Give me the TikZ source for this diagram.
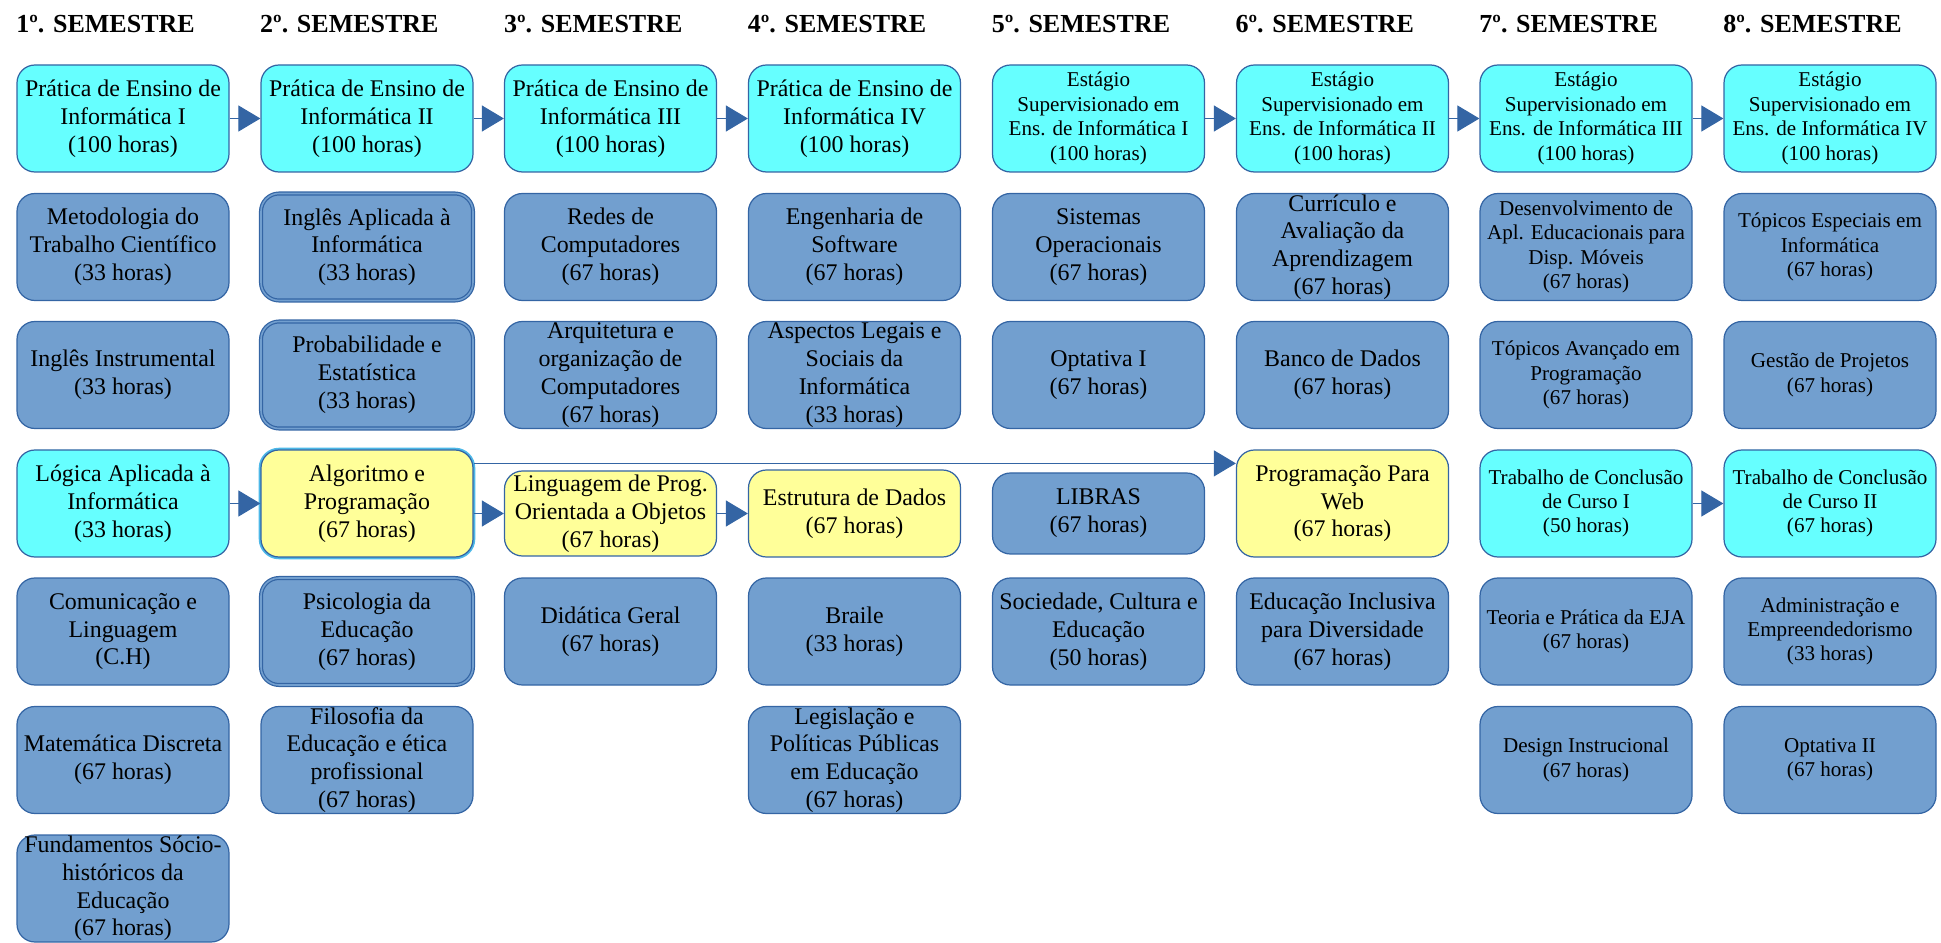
\documentclass[tikz,border=0pt]{standalone}
\usepackage{fontspec}
\setmainfont{Liberation Serif}
\usepackage{tikz}
\usetikzlibrary{positioning,calc,arrows.meta}
\definecolor{BordaAzul}{HTML}{3465A4}
\definecolor{CaixaAzul}{HTML}{729FCF}
\definecolor{CaixaCiano}{HTML}{66FFFF}
\definecolor{CaixaAmarela}{HTML}{FFFF99}
\definecolor{ContornoAlgo}{HTML}{4DB8E8}

\begin{document}
\begin{tikzpicture}[
    % Estilo base das disciplinas
    disciplina/.style={
        draw=BordaAzul, line width=0.7pt, rounded corners=0.36cm,
        minimum width=4.24cm, minimum height=2.14cm,
        inner sep=0pt, align=center,
        font=\fontsize{13.6}{15.8}\selectfont
    },
    % Cores das caixas
    basica/.style={disciplina, fill=CaixaAzul},
    pratica/.style={disciplina, fill=CaixaCiano},
    prog/.style={disciplina, fill=CaixaAmarela},
    % Texto menor (estagios, 7o e 8o semestres)
    menor/.style={font=\fontsize{12}{13.9}\selectfont},
    % Contorno duplo do 2o semestre
    dupla/.style={double=CaixaAzul, double distance=0.9pt},
    % Titulo de cada semestre
    titulo/.style={
        font=\fontsize{14.8}{17}\selectfont\bfseries,
        anchor=base west, inner sep=0pt
    },
    % Setas de pre-requisito
    seta/.style={-{Triangle[length=0.44cm, width=0.52cm]}, draw=BordaAzul, line width=0.6pt}
]
    \useasboundingbox (0,0) rectangle (38.82,-18.86);

    % --- 1. Titulos dos semestres ---
    \foreach \i in {1,...,8} {
        \node[titulo] (T\i) at ({0.32+4.877*(\i-1)}, -0.66) {\i º. SEMESTRE};
    }

    % --- 2. 1o semestre ---
    \node[pratica] (P1) at (2.46, -2.37) {Prática de Ensino de\\Informática I\\(100 horas)};
    \node[basica] (MTC) at (2.46, -4.94) {Metodologia do\\Trabalho Científico\\(33 horas)};
    \node[basica] (II) at (2.46, -7.50) {Inglês Instrumental\\(33 horas)};
    \node[pratica] (LAI) at (2.46, -10.07) {Lógica Aplicada à\\Informática\\(33 horas)};
    \node[basica] (CL) at (2.46, -12.63) {Comunicação e\\Linguagem\\(C.H)};
    \node[basica] (MD) at (2.46, -15.20) {Matemática Discreta\\(67 horas)};
    \node[basica] (FSE) at (2.46, -17.77) {Fundamentos Sócio-\\históricos da\\Educação\\(67 horas)};

    % --- 3. 2o semestre ---
    \node[pratica] (P2) at (7.34, -2.37) {Prática de Ensino de\\Informática II\\(100 horas)};
    \node[basica, dupla] (IAI) at (7.34, -4.94) {Inglês Aplicada à\\Informática\\(33 horas)};
    \node[basica, dupla] (PE) at (7.34, -7.50) {Probabilidade e\\Estatística\\(33 horas)};
    \node[prog, preaction={draw=ContornoAlgo, line width=2.6pt}] (Algo) at (7.34, -10.07) {Algoritmo e\\Programação\\(67 horas)};
    \node[basica, dupla] (PSI) at (7.34, -12.63) {Psicologia da\\Educação\\(67 horas)};
    \node[basica] (FIL) at (7.34, -15.20) {Filosofia da\\Educação e ética\\profissional\\(67 horas)};

    % --- 4. 3o semestre ---
    \node[pratica] (P3) at (12.21, -2.37) {Prática de Ensino de\\Informática III\\(100 horas)};
    \node[basica] (RC) at (12.21, -4.94) {Redes de\\Computadores\\(67 horas)};
    \node[basica] (AOC) at (12.21, -7.50) {Arquitetura e\\organização de\\Computadores\\(67 horas)};
    \node[prog, minimum height=1.70cm] (Ling) at (12.21, -10.27) {Linguagem de Prog.\\Orientada a Objetos\\(67 horas)};
    \node[basica] (DG) at (12.21, -12.63) {Didática Geral\\(67 horas)};

    % --- 5. 4o semestre ---
    \node[pratica] (P4) at (17.09, -2.37) {Prática de Ensino de\\Informática IV\\(100 horas)};
    \node[basica] (ES) at (17.09, -4.94) {Engenharia de\\Software\\(67 horas)};
    \node[basica] (ALS) at (17.09, -7.50) {Aspectos Legais e\\Sociais da\\Informática\\(33 horas)};
    \node[prog, minimum height=1.74cm] (Estr) at (17.09, -10.27) {Estrutura de Dados\\(67 horas)};
    \node[basica] (BR) at (17.09, -12.63) {Braile\\(33 horas)};
    \node[basica] (LPP) at (17.09, -15.20) {Legislação e\\Políticas Públicas\\em Educação\\(67 horas)};

    % --- 6. 5o semestre ---
    \node[pratica, menor] (E1) at (21.97, -2.37) {Estágio\\Supervisionado em\\Ens. de Informática I\\(100 horas)};
    \node[basica] (SO) at (21.97, -4.94) {Sistemas\\Operacionais\\(67 horas)};
    \node[basica] (OP1) at (21.97, -7.50) {Optativa I\\(67 horas)};
    \node[basica, minimum height=1.62cm] (LIB) at (21.97, -10.27) {LIBRAS\\(67 horas)};
    \node[basica] (SCE) at (21.97, -12.63) {Sociedade, Cultura e\\Educação\\(50 horas)};

    % --- 7. 6o semestre ---
    \node[pratica, menor] (E2) at (26.85, -2.37) {Estágio\\Supervisionado em\\Ens. de Informática II\\(100 horas)};
    \node[basica] (CAA) at (26.85, -4.94) {Currículo e\\Avaliação da\\Aprendizagem\\(67 horas)};
    \node[basica] (BD) at (26.85, -7.50) {Banco de Dados\\(67 horas)};
    \node[prog] (PW) at (26.85, -10.07) {Programação Para\\Web\\(67 horas)};
    \node[basica] (EID) at (26.85, -12.63) {Educação Inclusiva\\para Diversidade\\(67 horas)};

    % --- 8. 7o semestre ---
    \node[pratica, menor] (E3) at (31.72, -2.37) {Estágio\\Supervisionado em\\Ens. de Informática III\\(100 horas)};
    \node[basica, menor] (DAE) at (31.72, -4.94) {Desenvolvimento de\\Apl. Educacionais para\\Disp. Móveis\\(67 horas)};
    \node[basica, menor] (TAP) at (31.72, -7.50) {Tópicos Avançado em\\Programação\\(67 horas)};
    \node[pratica, menor] (TC1) at (31.72, -10.07) {Trabalho de Conclusão\\de Curso I\\(50 horas)};
    \node[basica, menor] (EJA) at (31.72, -12.63) {Teoria e Prática da EJA\\(67 horas)};
    \node[basica, menor] (DI) at (31.72, -15.20) {Design Instrucional\\(67 horas)};

    % --- 9. 8o semestre ---
    \node[pratica, menor] (E4) at (36.60, -2.37) {Estágio\\Supervisionado em\\Ens. de Informática IV\\(100 horas)};
    \node[basica, menor] (TEI) at (36.60, -4.94) {Tópicos Especiais em\\Informática\\(67 horas)};
    \node[basica, menor] (GP) at (36.60, -7.50) {Gestão de Projetos\\(67 horas)};
    \node[pratica, menor] (TC2) at (36.60, -10.07) {Trabalho de Conclusão\\de Curso II\\(67 horas)};
    \node[basica, menor] (AE) at (36.60, -12.63) {Administração e\\Empreendedorismo\\(33 horas)};
    \node[basica, menor] (OP2) at (36.60, -15.20) {Optativa II\\(67 horas)};

    % --- 10. Setas ---
    \draw[seta] (P1) -- (P2);
    \draw[seta] (P2) -- (P3);
    \draw[seta] (P3) -- (P4);
    \draw[seta] (E1) -- (E2);
    \draw[seta] (E2) -- (E3);
    \draw[seta] (E3) -- (E4);
    \draw[seta] (LAI) -- (Algo);
    \draw[seta] (Algo.east |- Ling) -- (Ling);
    \draw[seta] (Ling) -- (Estr);
    \coordinate (AlgoSaida) at ([yshift=-0.28cm]Algo.north east);
    \draw[seta] (AlgoSaida) -- (AlgoSaida -| PW.west);
    \draw[seta] (TC1) -- (TC2);
\end{tikzpicture}
\end{document}
